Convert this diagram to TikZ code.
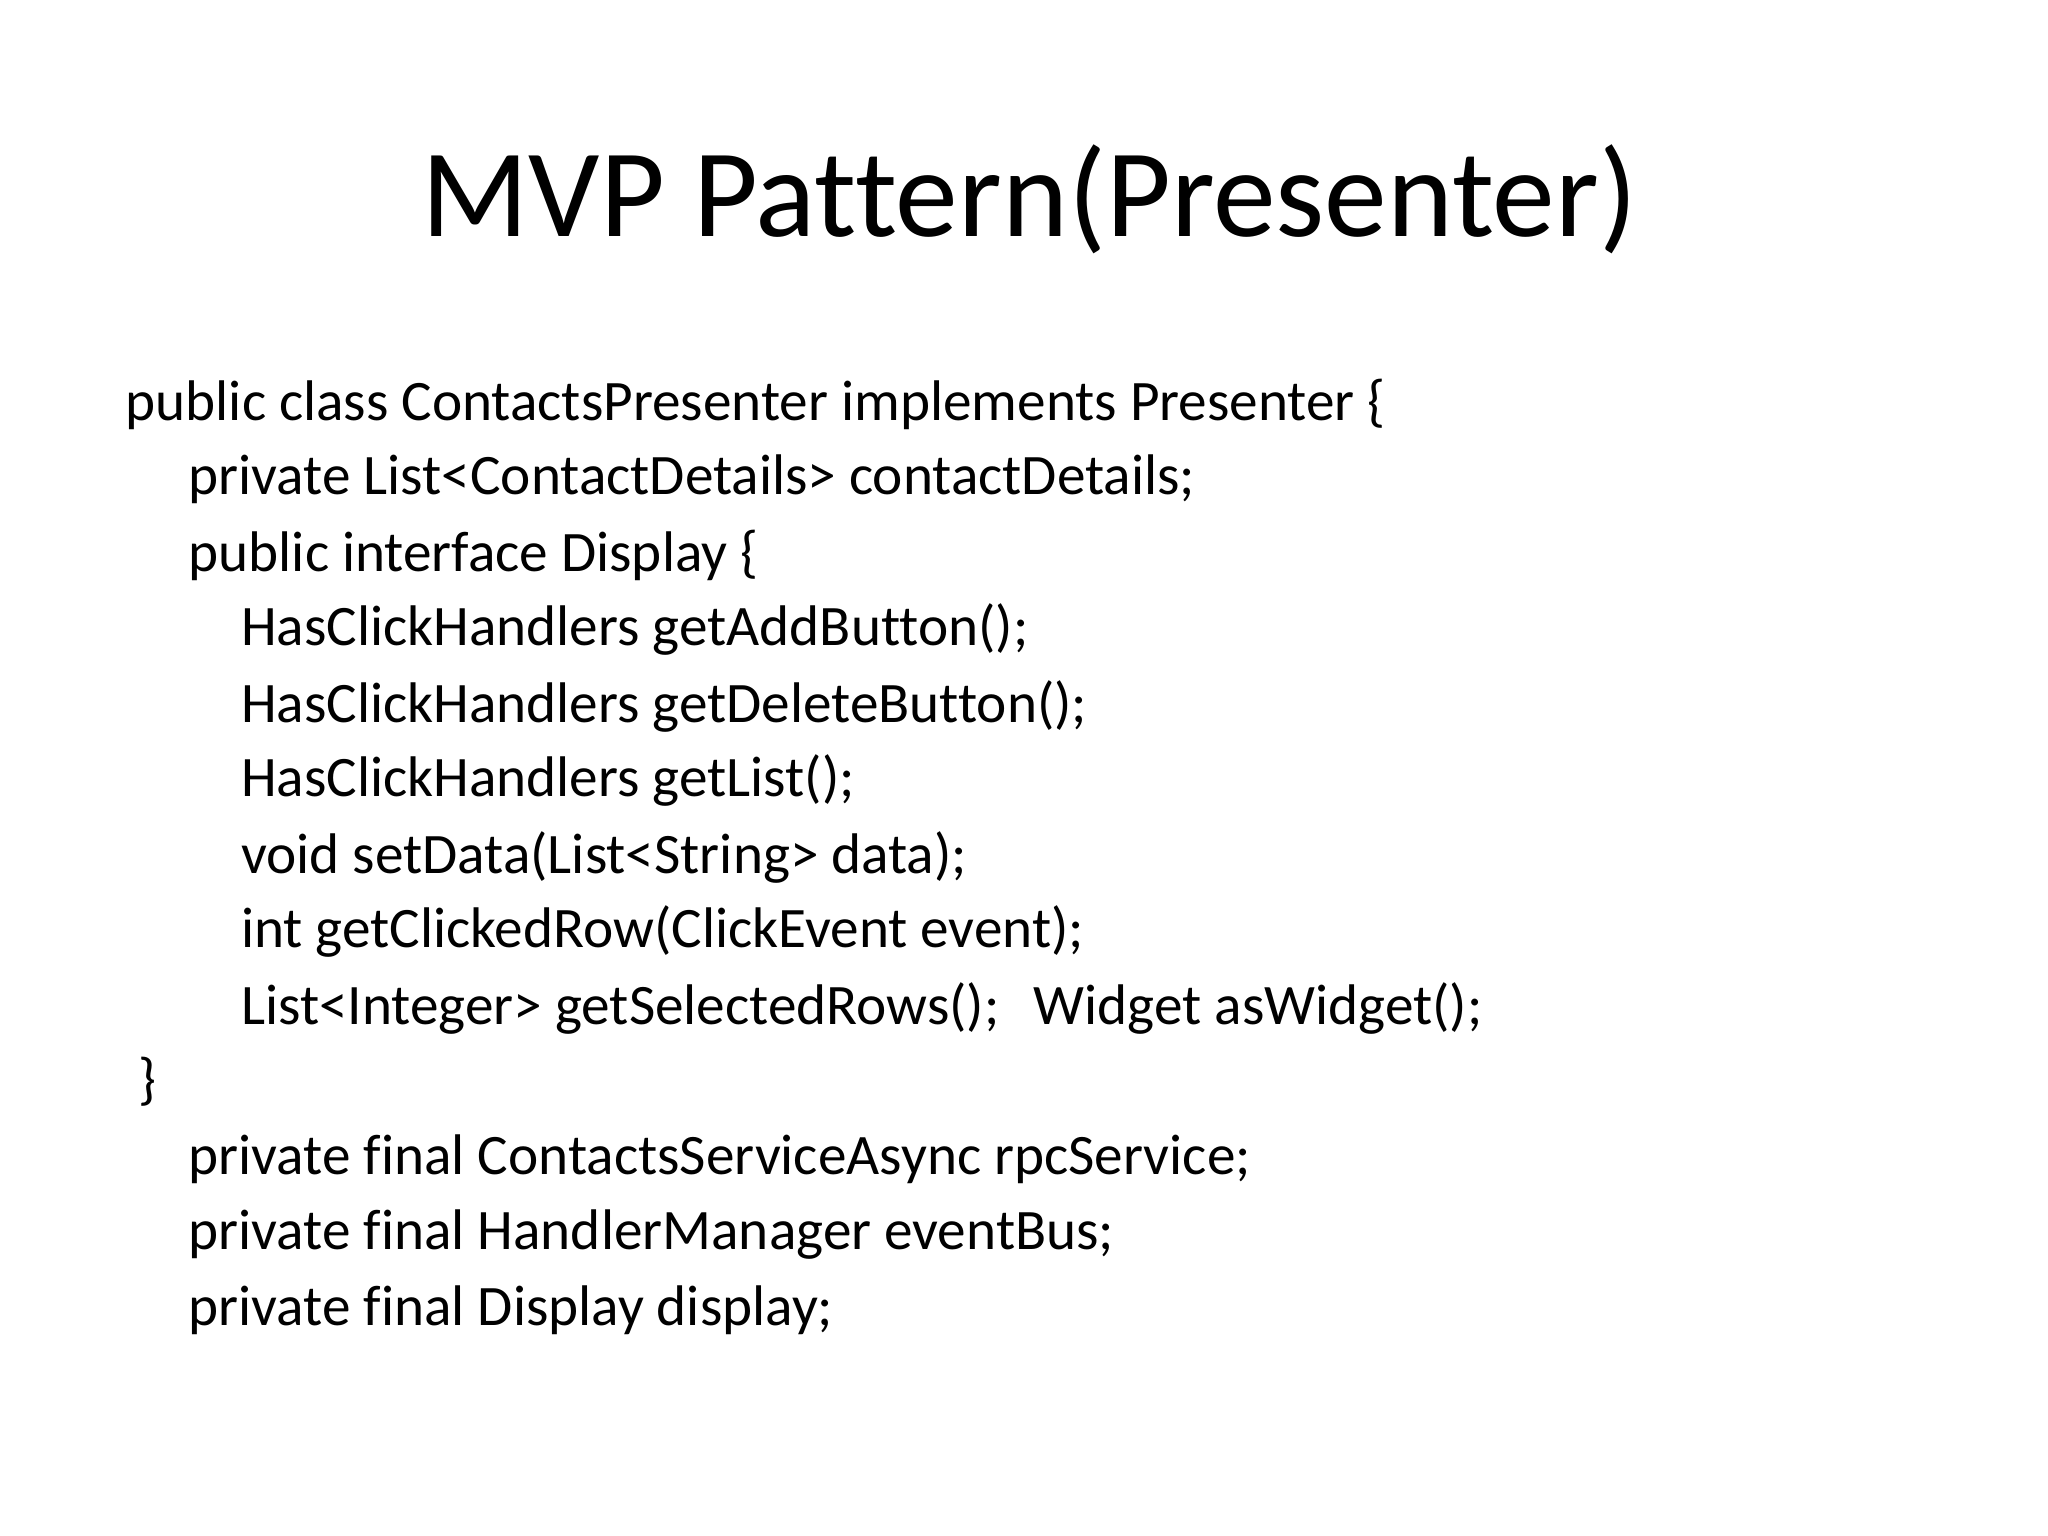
\documentclass[tikz,border=0pt]{standalone}
\usepackage{fontspec}
\setmainfont[Ligatures=NoCommon]{Carlito}
\begin{document}
\begin{tikzpicture}[x=0.01cm,y=-0.01cm,
  code/.style={anchor=base west,inner sep=0pt,font=\fontsize{12.4pt}{14pt}\selectfont}]
\useasboundingbox (0,0) rectangle (1560,1170);
\node[anchor=base,inner sep=0pt,font=\fontsize{27.2pt}{32pt}\selectfont] (title) at (784,180) {MVP Pattern(Presenter)};
\node[code] (l1) at (95,320) {public class ContactsPresenter implements Presenter \{};
\node[code] (l2) at (143,377) {private List<ContactDetails> contactDetails;};
\node[code] (l3) at (143,435) {public interface Display \{};
\node[code] (l4) at (183,492) {HasClickHandlers getAddButton();};
\node[code] (l5) at (183,550) {HasClickHandlers getDeleteButton();};
\node[code] (l6) at (183,607) {HasClickHandlers getList();};
\node[code] (l7) at (183,665) {void setData(List<String> data);};
\node[code] (l8) at (183,722) {int getClickedRow(ClickEvent event);};
\node[code] (l9) at (183,780) {List<Integer> getSelectedRows();\hspace{0.6em}Widget asWidget();};
\node[code] (l10) at (105,837) {\}};
\node[code] (l11) at (143,895) {private final ContactsServiceAsync rpcService;};
\node[code] (l12) at (143,952) {private final HandlerManager eventBus;};
\node[code] (l13) at (143,1010) {private final Display display;};
\end{tikzpicture}
\end{document}
